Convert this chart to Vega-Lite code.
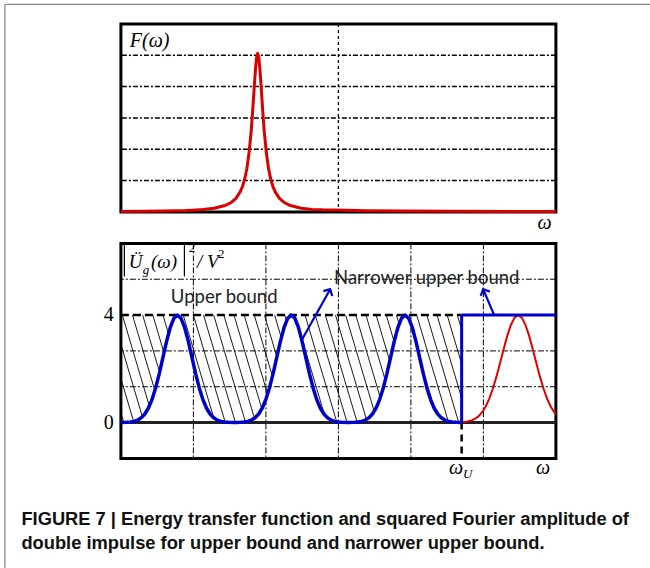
{
  "$schema": "https://vega.github.io/schema/vega-lite/v6.json",
  "padding": {"left": 1.9, "top": 1.9, "right": 0, "bottom": 0},
  "background": "white",
  "spacing": 31.5,
  "bounds": "flush",
  "config": {"view": {"stroke": "black", "strokeWidth": 3}},
  "datasets": {
    "topCurve": [
      {"w":0,"F":0.012},{"w":0.1,"F":0.017},{"w":0.2,"F":0.025},{"w":0.3,"F":0.042},{"w":0.329,"F":0.052},{"w":0.379,"F":0.075},{"w":0.429,"F":0.116},{"w":0.479,"F":0.202},{"w":0.509,"F":0.309},{"w":0.529,"F":0.433},{"w":0.549,"F":0.646},{"w":0.559,"F":0.812},{"w":0.569,"F":1.044},{"w":0.579,"F":1.379},{"w":0.589,"F":1.87},{"w":0.599,"F":2.58},{"w":0.604,"F":3.03},{"w":0.609,"F":3.55},{"w":0.614,"F":4.08},{"w":0.619,"F":4.57},{"w":0.624,"F":4.93},{"w":0.629,"F":5.06},{"w":0.634,"F":4.93},{"w":0.639,"F":4.57},{"w":0.644,"F":4.08},{"w":0.649,"F":3.55},{"w":0.654,"F":3.03},{"w":0.659,"F":2.58},{"w":0.669,"F":1.87},{"w":0.679,"F":1.379},{"w":0.689,"F":1.044},{"w":0.699,"F":0.812},{"w":0.709,"F":0.646},{"w":0.729,"F":0.433},{"w":0.749,"F":0.309},{"w":0.779,"F":0.202},{"w":0.829,"F":0.116},{"w":0.879,"F":0.08},{"w":0.929,"F":0.065},{"w":1.035,"F":0.05},{"w":1.135,"F":0.04},{"w":1.3,"F":0.03},{"w":1.5,"F":0.02},{"w":1.8,"F":0.01},{"w":2.0,"F":0.01}
    ],
    "topGridY": [{"g":1},{"g":2},{"g":3},{"g":4},{"g":5}],
    "topGridX": [{"g":1}],
    "botGridX": [{"g":1},{"g":2},{"g":3},{"g":4},{"g":5}],
    "botGridY": [{"g":1.3333},{"g":2.6667},{"g":5.3333}],
    "botLabels": [{"v":0,"t":"0"},{"v":4,"t":"4"}],
    "blue": [
      {"w":0,"v":0},{"w":0.08,"v":0.009},{"w":0.13,"v":0.02},{"w":0.18,"v":0.044},{"w":0.23,"v":0.091},{"w":0.28,"v":0.176},{"w":0.33,"v":0.318},{"w":0.38,"v":0.541},{"w":0.43,"v":0.865},{"w":0.48,"v":1.299},{"w":0.53,"v":1.831},{"w":0.58,"v":2.426},{"w":0.63,"v":3.019},{"w":0.68,"v":3.53},{"w":0.73,"v":3.877},{"w":0.78,"v":4},{"w":0.83,"v":3.877},{"w":0.88,"v":3.53},{"w":0.93,"v":3.019},{"w":0.98,"v":2.426},{"w":1.03,"v":1.831},{"w":1.08,"v":1.299},{"w":1.13,"v":0.865},{"w":1.18,"v":0.541},{"w":1.23,"v":0.318},{"w":1.28,"v":0.176},{"w":1.33,"v":0.091},{"w":1.38,"v":0.044},{"w":1.43,"v":0.02},{"w":1.48,"v":0.009},{"w":1.565,"v":0},
      {"w":1.65,"v":0.009},{"w":1.7,"v":0.02},{"w":1.75,"v":0.044},{"w":1.8,"v":0.091},{"w":1.85,"v":0.176},{"w":1.9,"v":0.318},{"w":1.95,"v":0.541},{"w":2.0,"v":0.865},{"w":2.05,"v":1.299},{"w":2.1,"v":1.831},{"w":2.15,"v":2.426},{"w":2.2,"v":3.019},{"w":2.25,"v":3.53},{"w":2.3,"v":3.877},{"w":2.35,"v":4},{"w":2.4,"v":3.877},{"w":2.45,"v":3.53},{"w":2.5,"v":3.019},{"w":2.55,"v":2.426},{"w":2.6,"v":1.831},{"w":2.65,"v":1.299},{"w":2.7,"v":0.865},{"w":2.75,"v":0.541},{"w":2.8,"v":0.318},{"w":2.85,"v":0.176},{"w":2.9,"v":0.091},{"w":2.95,"v":0.044},{"w":3.0,"v":0.02},{"w":3.05,"v":0.009},{"w":3.135,"v":0},
      {"w":3.22,"v":0.009},{"w":3.27,"v":0.02},{"w":3.32,"v":0.044},{"w":3.37,"v":0.091},{"w":3.42,"v":0.176},{"w":3.47,"v":0.318},{"w":3.52,"v":0.541},{"w":3.57,"v":0.865},{"w":3.62,"v":1.299},{"w":3.67,"v":1.831},{"w":3.72,"v":2.426},{"w":3.77,"v":3.019},{"w":3.82,"v":3.53},{"w":3.87,"v":3.877},{"w":3.92,"v":4},{"w":3.97,"v":3.877},{"w":4.02,"v":3.53},{"w":4.07,"v":3.019},{"w":4.12,"v":2.426},{"w":4.17,"v":1.831},{"w":4.22,"v":1.299},{"w":4.27,"v":0.865},{"w":4.32,"v":0.541},{"w":4.37,"v":0.318},{"w":4.42,"v":0.176},{"w":4.47,"v":0.091},{"w":4.52,"v":0.044},{"w":4.57,"v":0.02},{"w":4.62,"v":0.009},{"w":4.7,"v":0}
    ],
    "red": [
      {"w":4.7,"v":0.013},{"w":4.78,"v":0.039},{"w":4.83,"v":0.074},{"w":4.88,"v":0.133},{"w":4.93,"v":0.229},{"w":4.98,"v":0.376},{"w":5.03,"v":0.59},{"w":5.08,"v":0.882},{"w":5.13,"v":1.257},{"w":5.18,"v":1.708},{"w":5.23,"v":2.216},{"w":5.28,"v":2.741},{"w":5.33,"v":3.234},{"w":5.38,"v":3.639},{"w":5.43,"v":3.906},{"w":5.48,"v":4},{"w":5.53,"v":3.906},{"w":5.58,"v":3.639},{"w":5.63,"v":3.234},{"w":5.68,"v":2.741},{"w":5.73,"v":2.216},{"w":5.78,"v":1.708},{"w":5.83,"v":1.257},{"w":5.88,"v":0.882},{"w":5.93,"v":0.59},{"w":5.98,"v":0.376},{"w":6.0,"v":0.31}
    ],
    "hatch": [
      {"x1":0,"y1":0.364,"x2":0.04,"y2":0},{"x1":0,"y1":1.636,"x2":0.18,"y2":0},{"x1":0,"y1":2.909,"x2":0.32,"y2":0},
      {"x1":0.02,"y1":4,"x2":0.46,"y2":0},{"x1":0.16,"y1":4,"x2":0.6,"y2":0},{"x1":0.3,"y1":4,"x2":0.74,"y2":0},{"x1":0.44,"y1":4,"x2":0.88,"y2":0},{"x1":0.58,"y1":4,"x2":1.02,"y2":0},{"x1":0.72,"y1":4,"x2":1.16,"y2":0},{"x1":0.86,"y1":4,"x2":1.3,"y2":0},{"x1":1.0,"y1":4,"x2":1.44,"y2":0},{"x1":1.14,"y1":4,"x2":1.58,"y2":0},{"x1":1.28,"y1":4,"x2":1.72,"y2":0},{"x1":1.42,"y1":4,"x2":1.86,"y2":0},{"x1":1.56,"y1":4,"x2":2.0,"y2":0},{"x1":1.7,"y1":4,"x2":2.14,"y2":0},{"x1":1.84,"y1":4,"x2":2.28,"y2":0},{"x1":1.98,"y1":4,"x2":2.42,"y2":0},{"x1":2.12,"y1":4,"x2":2.56,"y2":0},{"x1":2.26,"y1":4,"x2":2.7,"y2":0},{"x1":2.4,"y1":4,"x2":2.84,"y2":0},{"x1":2.54,"y1":4,"x2":2.98,"y2":0},{"x1":2.68,"y1":4,"x2":3.12,"y2":0},{"x1":2.82,"y1":4,"x2":3.26,"y2":0},{"x1":2.96,"y1":4,"x2":3.4,"y2":0},{"x1":3.1,"y1":4,"x2":3.54,"y2":0},{"x1":3.24,"y1":4,"x2":3.68,"y2":0},{"x1":3.38,"y1":4,"x2":3.82,"y2":0},{"x1":3.52,"y1":4,"x2":3.96,"y2":0},{"x1":3.66,"y1":4,"x2":4.1,"y2":0},{"x1":3.8,"y1":4,"x2":4.24,"y2":0},{"x1":3.94,"y1":4,"x2":4.38,"y2":0},{"x1":4.08,"y1":4,"x2":4.52,"y2":0},{"x1":4.22,"y1":4,"x2":4.66,"y2":0},
      {"x1":4.36,"y1":4,"x2":4.7,"y2":0.909},{"x1":4.5,"y1":4,"x2":4.7,"y2":2.182},{"x1":4.64,"y1":4,"x2":4.7,"y2":3.455}
    ]
  },
  "vconcat": [
    {
      "width": 435,
      "height": 188,
      "layer": [
        {
          "data": {"name": "topGridY"},
          "mark": {"type": "rule", "color": "black", "strokeWidth": 1.5, "strokeDash": [5, 2, 2, 2]},
          "encoding": {
            "y": {"field": "g", "type": "quantitative", "scale": {"domain": [0, 6], "nice": false}, "axis": null}
          }
        },
        {
          "data": {"name": "topGridX"},
          "mark": {"type": "rule", "color": "black", "strokeWidth": 1.3, "strokeDash": [3, 3]},
          "encoding": {
            "x": {"field": "g", "type": "quantitative", "scale": {"domain": [0, 2], "nice": false}, "axis": null}
          }
        },
        {
          "data": {"name": "topCurve"},
          "mark": {"type": "line", "color": "#d90000", "strokeWidth": 3, "strokeJoin": "round"},
          "encoding": {
            "x": {"field": "w", "type": "quantitative", "scale": {"domain": [0, 2], "nice": false}, "axis": null},
            "y": {"field": "F", "type": "quantitative", "scale": {"domain": [0, 6], "nice": false}, "axis": null}
          }
        },
        {
          "data": {"values": [{}]},
          "mark": {"type": "text", "text": "F(ω)", "font": "Liberation Serif", "fontStyle": "italic", "fontSize": 20, "align": "left", "baseline": "alphabetic", "color": "black"},
          "encoding": {
            "x": {"datum": 0.041, "type": "quantitative", "scale": {"domain": [0, 2], "nice": false}, "axis": null},
            "y": {"datum": 5.266, "type": "quantitative", "scale": {"domain": [0, 6], "nice": false}, "axis": null}
          }
        },
        {
          "data": {"values": [{}]},
          "mark": {"type": "text", "text": "ω", "font": "Liberation Serif", "fontStyle": "italic", "fontSize": 20, "align": "left", "baseline": "alphabetic", "color": "black"},
          "encoding": {
            "x": {"datum": 1.916, "type": "quantitative", "scale": {"domain": [0, 2], "nice": false}, "axis": null},
            "y": {"datum": -0.543, "type": "quantitative", "scale": {"domain": [0, 6], "nice": false}, "axis": null}
          }
        }
      ]
    },
    {
      "width": 435,
      "height": 215,
      "layer": [
        {
          "data": {"name": "hatch"},
          "mark": {"type": "rule", "color": "black", "strokeWidth": 0.9},
          "encoding": {
            "x": {"field": "x1", "type": "quantitative", "scale": {"domain": [0, 6], "nice": false}, "axis": null},
            "y": {"field": "y1", "type": "quantitative", "scale": {"domain": [-1.3333, 6.6667], "nice": false}, "axis": null},
            "x2": {"field": "x2"},
            "y2": {"field": "y2"}
          }
        },
        {
          "data": {"name": "blue"},
          "mark": {"type": "area", "fill": "white", "opacity": 1},
          "encoding": {
            "x": {"field": "w", "type": "quantitative", "scale": {"domain": [0, 6], "nice": false}, "axis": null},
            "y": {"field": "v", "type": "quantitative", "scale": {"domain": [-1.3333, 6.6667], "nice": false}, "axis": null},
            "y2": {"datum": 0}
          }
        },
        {
          "data": {"name": "botGridX"},
          "mark": {"type": "rule", "color": "black", "strokeWidth": 1, "strokeDash": [6, 2, 2, 2]},
          "encoding": {
            "x": {"field": "g", "type": "quantitative", "scale": {"domain": [0, 6], "nice": false}, "axis": null}
          }
        },
        {
          "data": {"name": "botGridY"},
          "mark": {"type": "rule", "color": "black", "strokeWidth": 1, "strokeDash": [6, 2, 2, 2]},
          "encoding": {
            "y": {"field": "g", "type": "quantitative", "scale": {"domain": [-1.3333, 6.6667], "nice": false}, "axis": null}
          }
        },
        {
          "data": {"name": "botLabels"},
          "mark": {"type": "text", "font": "Liberation Serif", "fontSize": 20, "align": "right", "baseline": "middle", "color": "black"},
          "encoding": {
            "x": {"datum": -0.097, "type": "quantitative", "scale": {"domain": [0, 6], "nice": false}, "axis": null},
            "y": {"field": "v", "type": "quantitative", "scale": {"domain": [-1.3333, 6.6667], "nice": false}, "axis": null},
            "text": {"field": "t"}
          }
        },
        {
          "data": {"values": [{}]},
          "mark": {"type": "rule", "color": "black", "strokeWidth": 2.5, "strokeDash": [8, 4]},
          "encoding": {
            "x": {"datum": 0, "type": "quantitative", "scale": {"domain": [0, 6], "nice": false}, "axis": null},
            "x2": {"datum": 4.7},
            "y": {"datum": 4, "type": "quantitative", "scale": {"domain": [-1.3333, 6.6667], "nice": false}, "axis": null}
          }
        },
        {
          "data": {"values": [{}]},
          "mark": {"type": "rule", "color": "#222222", "strokeWidth": 3},
          "encoding": {
            "x": {"datum": 0, "type": "quantitative", "scale": {"domain": [0, 6], "nice": false}, "axis": null},
            "x2": {"datum": 6},
            "y": {"datum": 0, "type": "quantitative", "scale": {"domain": [-1.3333, 6.6667], "nice": false}, "axis": null}
          }
        },
        {
          "data": {"values": [{}]},
          "mark": {"type": "rule", "color": "black", "strokeWidth": 2.5, "strokeDash": [7, 5]},
          "encoding": {
            "x": {"datum": 4.7, "type": "quantitative", "scale": {"domain": [0, 6], "nice": false}, "axis": null},
            "y": {"datum": 0, "type": "quantitative", "scale": {"domain": [-1.3333, 6.6667], "nice": false}, "axis": null},
            "y2": {"datum": -1.3333}
          }
        },
        {
          "data": {"name": "red"},
          "mark": {"type": "line", "color": "#e00000", "strokeWidth": 2},
          "encoding": {
            "x": {"field": "w", "type": "quantitative", "scale": {"domain": [0, 6], "nice": false}, "axis": null},
            "y": {"field": "v", "type": "quantitative", "scale": {"domain": [-1.3333, 6.6667], "nice": false}, "axis": null}
          }
        },
        {
          "data": {"name": "blue"},
          "mark": {"type": "line", "color": "#0000cc", "strokeWidth": 3.5, "strokeJoin": "round"},
          "encoding": {
            "x": {"field": "w", "type": "quantitative", "scale": {"domain": [0, 6], "nice": false}, "axis": null},
            "y": {"field": "v", "type": "quantitative", "scale": {"domain": [-1.3333, 6.6667], "nice": false}, "axis": null}
          }
        },
        {
          "data": {"values": [{}]},
          "mark": {"type": "rule", "color": "#0000cc", "strokeWidth": 3},
          "encoding": {
            "x": {"datum": 4.7, "type": "quantitative", "scale": {"domain": [0, 6], "nice": false}, "axis": null},
            "y": {"datum": 0, "type": "quantitative", "scale": {"domain": [-1.3333, 6.6667], "nice": false}, "axis": null},
            "y2": {"datum": 4}
          }
        },
        {
          "data": {"values": [{}]},
          "mark": {"type": "rule", "color": "#0000cc", "strokeWidth": 3},
          "encoding": {
            "x": {"datum": 4.7, "type": "quantitative", "scale": {"domain": [0, 6], "nice": false}, "axis": null},
            "x2": {"datum": 6},
            "y": {"datum": 4, "type": "quantitative", "scale": {"domain": [-1.3333, 6.6667], "nice": false}, "axis": null}
          }
        },
        {
          "data": {"values": [{}]},
          "mark": {"type": "rule", "color": "#0000cc", "strokeWidth": 2.2},
          "encoding": {
            "x": {"datum": 2.483, "type": "quantitative", "scale": {"domain": [0, 6], "nice": false}, "axis": null},
            "x2": {"datum": 2.887},
            "y": {"datum": 3.013, "type": "quantitative", "scale": {"domain": [-1.3333, 6.6667], "nice": false}, "axis": null},
            "y2": {"datum": 4.962}
          }
        },
        {
          "data": {"values": [{}]},
          "mark": {"type": "point", "shape": "M-1,1L0,0L1,1", "size": 100, "filled": false, "stroke": "#0000cc", "strokeWidth": 2.2, "opacity": 1, "angle": 29},
          "encoding": {
            "x": {"datum": 2.887, "type": "quantitative", "scale": {"domain": [0, 6], "nice": false}, "axis": null},
            "y": {"datum": 4.962, "type": "quantitative", "scale": {"domain": [-1.3333, 6.6667], "nice": false}, "axis": null}
          }
        },
        {
          "data": {"values": [{}]},
          "mark": {"type": "rule", "color": "#0000cc", "strokeWidth": 2.2},
          "encoding": {
            "x": {"datum": 5.149, "type": "quantitative", "scale": {"domain": [0, 6], "nice": false}, "axis": null},
            "x2": {"datum": 4.997},
            "y": {"datum": 4, "type": "quantitative", "scale": {"domain": [-1.3333, 6.6667], "nice": false}, "axis": null},
            "y2": {"datum": 4.962}
          }
        },
        {
          "data": {"values": [{}]},
          "mark": {"type": "point", "shape": "M-1,1L0,0L1,1", "size": 100, "filled": false, "stroke": "#0000cc", "strokeWidth": 2.2, "opacity": 1, "angle": -25},
          "encoding": {
            "x": {"datum": 4.997, "type": "quantitative", "scale": {"domain": [0, 6], "nice": false}, "axis": null},
            "y": {"datum": 4.962, "type": "quantitative", "scale": {"domain": [-1.3333, 6.6667], "nice": false}, "axis": null}
          }
        },
        {
          "data": {"values": [{}]},
          "mark": {"type": "text", "text": "Upper bound", "font": "Lato", "fontSize": 18.5, "align": "center", "baseline": "alphabetic", "color": "#222222"},
          "encoding": {
            "x": {"datum": 1.425, "type": "quantitative", "scale": {"domain": [0, 6], "nice": false}, "axis": null},
            "y": {"datum": 4.453, "type": "quantitative", "scale": {"domain": [-1.3333, 6.6667], "nice": false}, "axis": null}
          }
        },
        {
          "data": {"values": [{}]},
          "mark": {"type": "text", "text": "Narrower upper bound", "font": "Lato", "fontSize": 18.5, "align": "center", "baseline": "alphabetic", "color": "#222222"},
          "encoding": {
            "x": {"datum": 4.218, "type": "quantitative", "scale": {"domain": [0, 6], "nice": false}, "axis": null},
            "y": {"datum": 5.16, "type": "quantitative", "scale": {"domain": [-1.3333, 6.6667], "nice": false}, "axis": null}
          }
        },
        {
          "data": {"values": [{}]},
          "mark": {"type": "rule", "color": "black", "strokeWidth": 1.2},
          "encoding": {
            "x": {"datum": 0.048, "type": "quantitative", "scale": {"domain": [0, 6], "nice": false}, "axis": null},
            "y": {"datum": 6.611, "type": "quantitative", "scale": {"domain": [-1.3333, 6.6667], "nice": false}, "axis": null},
            "y2": {"datum": 5.439}
          }
        },
        {
          "data": {"values": [{}]},
          "mark": {"type": "rule", "color": "black", "strokeWidth": 1.2},
          "encoding": {
            "x": {"datum": 0.876, "type": "quantitative", "scale": {"domain": [0, 6], "nice": false}, "axis": null},
            "y": {"datum": 6.611, "type": "quantitative", "scale": {"domain": [-1.3333, 6.6667], "nice": false}, "axis": null},
            "y2": {"datum": 5.439}
          }
        },
        {
          "data": {"values": [{}]},
          "mark": {"type": "text", "text": "Ü", "font": "Liberation Serif", "fontStyle": "italic", "fontSize": 19, "align": "left", "baseline": "alphabetic", "color": "black"},
          "encoding": {
            "x": {"datum": 0.11, "type": "quantitative", "scale": {"domain": [0, 6], "nice": false}, "axis": null},
            "y": {"datum": 5.755, "type": "quantitative", "scale": {"domain": [-1.3333, 6.6667], "nice": false}, "axis": null}
          }
        },
        {
          "data": {"values": [{}]},
          "mark": {"type": "text", "text": "g", "font": "Liberation Serif", "fontStyle": "italic", "fontSize": 13, "align": "left", "baseline": "alphabetic", "color": "black"},
          "encoding": {
            "x": {"datum": 0.303, "type": "quantitative", "scale": {"domain": [0, 6], "nice": false}, "axis": null},
            "y": {"datum": 5.532, "type": "quantitative", "scale": {"domain": [-1.3333, 6.6667], "nice": false}, "axis": null}
          }
        },
        {
          "data": {"values": [{}]},
          "mark": {"type": "text", "text": "(ω)", "font": "Liberation Serif", "fontStyle": "italic", "fontSize": 19, "align": "left", "baseline": "alphabetic", "color": "black"},
          "encoding": {
            "x": {"datum": 0.414, "type": "quantitative", "scale": {"domain": [0, 6], "nice": false}, "axis": null},
            "y": {"datum": 5.755, "type": "quantitative", "scale": {"domain": [-1.3333, 6.6667], "nice": false}, "axis": null}
          }
        },
        {
          "data": {"values": [{}]},
          "mark": {"type": "text", "text": "2", "font": "Liberation Serif", "fontSize": 13, "align": "left", "baseline": "alphabetic", "color": "black"},
          "encoding": {
            "x": {"datum": 0.935, "type": "quantitative", "scale": {"domain": [0, 6], "nice": false}, "axis": null},
            "y": {"datum": 6.35, "type": "quantitative", "scale": {"domain": [-1.3333, 6.6667], "nice": false}, "axis": null}
          }
        },
        {
          "data": {"values": [{}]},
          "mark": {"type": "text", "text": "/ V", "font": "Liberation Serif", "fontStyle": "italic", "fontSize": 19, "align": "left", "baseline": "alphabetic", "color": "black"},
          "encoding": {
            "x": {"datum": 1.048, "type": "quantitative", "scale": {"domain": [0, 6], "nice": false}, "axis": null},
            "y": {"datum": 5.755, "type": "quantitative", "scale": {"domain": [-1.3333, 6.6667], "nice": false}, "axis": null}
          }
        },
        {
          "data": {"values": [{}]},
          "mark": {"type": "text", "text": "2", "font": "Liberation Serif", "fontSize": 13, "align": "left", "baseline": "alphabetic", "color": "black"},
          "encoding": {
            "x": {"datum": 1.338, "type": "quantitative", "scale": {"domain": [0, 6], "nice": false}, "axis": null},
            "y": {"datum": 6.127, "type": "quantitative", "scale": {"domain": [-1.3333, 6.6667], "nice": false}, "axis": null}
          }
        },
        {
          "data": {"values": [{}]},
          "mark": {"type": "text", "text": "ω", "font": "Liberation Serif", "fontStyle": "italic", "fontSize": 20, "align": "left", "baseline": "alphabetic", "color": "black"},
          "encoding": {
            "x": {"datum": 4.524, "type": "quantitative", "scale": {"domain": [0, 6], "nice": false}, "axis": null},
            "y": {"datum": -1.91, "type": "quantitative", "scale": {"domain": [-1.3333, 6.6667], "nice": false}, "axis": null}
          }
        },
        {
          "data": {"values": [{}]},
          "mark": {"type": "text", "text": "U", "font": "Liberation Serif", "fontStyle": "italic", "fontSize": 13, "align": "left", "baseline": "alphabetic", "color": "black"},
          "encoding": {
            "x": {"datum": 4.717, "type": "quantitative", "scale": {"domain": [0, 6], "nice": false}, "axis": null},
            "y": {"datum": -2.059, "type": "quantitative", "scale": {"domain": [-1.3333, 6.6667], "nice": false}, "axis": null}
          }
        },
        {
          "data": {"values": [{}]},
          "mark": {"type": "text", "text": "ω", "font": "Liberation Serif", "fontStyle": "italic", "fontSize": 20, "align": "left", "baseline": "alphabetic", "color": "black"},
          "encoding": {
            "x": {"datum": 5.724, "type": "quantitative", "scale": {"domain": [0, 6], "nice": false}, "axis": null},
            "y": {"datum": -1.91, "type": "quantitative", "scale": {"domain": [-1.3333, 6.6667], "nice": false}, "axis": null}
          }
        },
        {
          "data": {"values": [{}]},
          "mark": {"type": "text", "text": "FIGURE 7 | Energy transfer function and squared Fourier amplitude of", "font": "Liberation Sans", "fontWeight": "bold", "fontSize": 18.3, "align": "left", "baseline": "alphabetic", "color": "#111111"},
          "encoding": {
            "x": {"datum": -1.372, "type": "quantitative", "scale": {"domain": [0, 6], "nice": false}, "axis": null},
            "y": {"datum": -3.808, "type": "quantitative", "scale": {"domain": [-1.3333, 6.6667], "nice": false}, "axis": null}
          }
        },
        {
          "data": {"values": [{}]},
          "mark": {"type": "text", "text": "double impulse for upper bound and narrower upper bound.", "font": "Liberation Sans", "fontWeight": "bold", "fontSize": 18.3, "align": "left", "baseline": "alphabetic", "color": "#111111"},
          "encoding": {
            "x": {"datum": -1.372, "type": "quantitative", "scale": {"domain": [0, 6], "nice": false}, "axis": null},
            "y": {"datum": -4.701, "type": "quantitative", "scale": {"domain": [-1.3333, 6.6667], "nice": false}, "axis": null}
          }
        },
        {
          "data": {"values": [{}]},
          "mark": {"type": "rule", "color": "#8a8a8a", "strokeWidth": 1.3},
          "encoding": {
            "x": {"datum": -1.6, "type": "quantitative", "scale": {"domain": [0, 6], "nice": false}, "axis": null},
            "y": {"datum": 15.56, "type": "quantitative", "scale": {"domain": [-1.3333, 6.6667], "nice": false}, "axis": null},
            "y2": {"datum": -5.4}
          }
        },
        {
          "data": {"values": [{}]},
          "mark": {"type": "rule", "color": "#8a8a8a", "strokeWidth": 1.3},
          "encoding": {
            "x": {"datum": -1.6, "type": "quantitative", "scale": {"domain": [0, 6], "nice": false}, "axis": null},
            "x2": {"datum": 7.31},
            "y": {"datum": 15.56, "type": "quantitative", "scale": {"domain": [-1.3333, 6.6667], "nice": false}, "axis": null}
          }
        }
      ]
    }
  ]
}
